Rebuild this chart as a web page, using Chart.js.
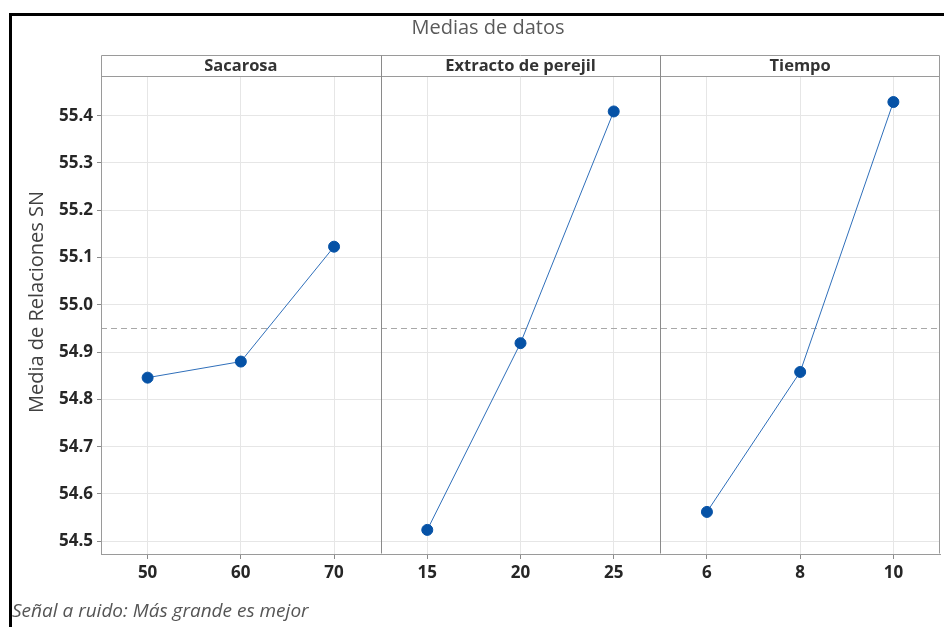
<!DOCTYPE html>
<html>
<head>
<meta charset="utf-8">
<script src="https://cdn.jsdelivr.net/npm/chart.js@4"></script>
<style>
  html, body { margin: 0; padding: 0; background: #ffffff; }
  #wrap { width: 944px; height: 627px; position: relative; }
</style>
</head>
<body>
<div id="wrap"><canvas id="c" width="944" height="627"></canvas></div>
<script>
// ---- data ----
const chartTitle = 'Medias de datos';
const yAxisTitle = 'Media de Relaciones SN';
const footNote = 'Señal a ruido: Más grande es mejor';
const panelNames = ['Sacarosa', 'Extracto de perejil', 'Tiempo'];

const levelsSacarosa = ['50', '60', '70'];
const levelsExtracto = ['15', '20', '25'];
const levelsTiempo = ['6', '8', '10'];

const meansSacarosa = [54.846, 54.880, 55.123];
const meansExtracto = [54.524, 54.919, 55.409];
const meansTiempo = [54.562, 54.858, 55.429];

const overallMean = 54.950;
const yTicks = [54.5, 54.6, 54.7, 54.8, 54.9, 55.0, 55.1, 55.2, 55.3, 55.4];
const yMin = 54.473;
const yMax = 55.484;

// ---- build ----
const allLevels = levelsSacarosa.concat(levelsExtracto, levelsTiempo);
const toPoints = (lv, vals) => lv.map((l, i) => ({ x: l, y: vals[i] }));

const lineColor = '#2f6fba';
const pointColor = '#0652a6';
const fontFamily = '"Open Sans", "Noto Sans", "DejaVu Sans", sans-serif';

function ds(lv, vals) {
  return {
    data: toPoints(lv, vals),
    borderColor: lineColor,
    borderWidth: 1,
    backgroundColor: pointColor,
    pointBackgroundColor: pointColor,
    pointBorderColor: pointColor,
    pointRadius: 5.5,
    pointHoverRadius: 5.5,
    tension: 0,
    spanGaps: false
  };
}

const panelsPlugin = {
  id: 'panels',
  beforeDatasetsDraw(chart) {
    const { ctx, chartArea: a, scales: { y } } = chart;
    ctx.save();
    const ym = Math.round(y.getPixelForValue(overallMean)) + 0.5;
    ctx.strokeStyle = '#a8a8a8';
    ctx.lineWidth = 1;
    ctx.setLineDash([6, 4]);
    ctx.beginPath();
    ctx.moveTo(a.left, ym);
    ctx.lineTo(a.right, ym);
    ctx.stroke();
    ctx.restore();
  },
  afterDraw(chart) {
    const { ctx, chartArea: a, scales: { x } } = chart;
    const headH = 21;
    ctx.save();
    ctx.setLineDash([]);
    ctx.lineWidth = 1;
    ctx.strokeStyle = '#9a9a9a';
    const L = Math.round(a.left) + 0.5, R = Math.round(a.right) - 0.5;
    const T = Math.round(a.top) - headH + 0.5, M = Math.round(a.top) + 0.5, B = Math.round(a.bottom) - 0.5;
    ctx.beginPath();
    ctx.moveTo(L, T); ctx.lineTo(R, T);
    ctx.moveTo(L, M); ctx.lineTo(R, M);
    ctx.moveTo(L, T); ctx.lineTo(L, B);
    ctx.moveTo(R, T); ctx.lineTo(R, B);
    ctx.stroke();
    ctx.strokeStyle = '#8a8a8a';
    [2.5, 5.5].forEach(b => {
      const px = Math.round(x.getPixelForValue(b)) + 0.5;
      ctx.beginPath();
      ctx.moveTo(px, T);
      ctx.lineTo(px, B);
      ctx.stroke();
    });
    ctx.fillStyle = '#333333';
    ctx.font = 'bold 16.5px ' + fontFamily;
    ctx.textAlign = 'center';
    ctx.textBaseline = 'middle';
    panelNames.forEach((n, i) => {
      ctx.fillText(n, x.getPixelForValue(i * 3 + 1), (T + M) / 2 + 0.5);
    });
    ctx.fillStyle = '#5a5a5a';
    ctx.font = '20px ' + fontFamily;
    ctx.fillText(chartTitle, 488, 28);
    ctx.save();
    ctx.translate(37, 302);
    ctx.rotate(-Math.PI / 2);
    ctx.fillStyle = '#404040';
    ctx.font = '20px ' + fontFamily;
    ctx.fillText(yAxisTitle, 0, 0);
    ctx.restore();
    ctx.textAlign = 'left';
    ctx.fillStyle = '#555555';
    ctx.font = 'italic 19px ' + fontFamily;
    ctx.fillText(footNote, 12, 612);
    ctx.fillStyle = '#000000';
    ctx.fillRect(9, 13, 944 - 9, 3);
    ctx.fillRect(9, 13, 3, 627 - 13);
    ctx.restore();
  }
};

new Chart(document.getElementById('c'), {
  type: 'line',
  data: {
    labels: allLevels,
    datasets: [
      ds(levelsSacarosa, meansSacarosa),
      ds(levelsExtracto, meansExtracto),
      ds(levelsTiempo, meansTiempo)
    ]
  },
  options: {
    responsive: false,
    animation: false,
    events: [],
    layout: { autoPadding: false, padding: { top: 76, right: 4, bottom: 0, left: 0 } },
    plugins: { legend: { display: false }, title: { display: false }, tooltip: { enabled: false } },
    scales: {
      x: {
        type: 'category',
        offset: true,
        grid: { offset: false, color: '#e6e6e6', lineWidth: 1, tickLength: 5, tickColor: '#8a8a8a', drawOnChartArea: true },
        border: { display: true, color: '#9a9a9a' },
        ticks: { color: '#262626', font: { family: fontFamily, size: 17, weight: 'bold' }, padding: 4, maxRotation: 0, autoSkip: false },
        afterFit(s) { s.height = 73; s.paddingLeft = 0; s.paddingRight = 0; }
      },
      y: {
        min: yMin,
        max: yMax,
        grid: { color: '#e6e6e6', lineWidth: 1, tickLength: 4, tickColor: '#8a8a8a' },
        border: { display: true, color: '#9a9a9a' },
        ticks: { color: '#262626', font: { family: fontFamily, size: 17, weight: 'bold' }, padding: 4,
                 callback: v => Number(v).toFixed(1) },
        afterBuildTicks(s) { s.ticks = yTicks.map(v => ({ value: v })); },
        afterFit(s) { s.width = 101; }
      }
    }
  },
  plugins: [panelsPlugin]
});
</script>
</body>
</html>
